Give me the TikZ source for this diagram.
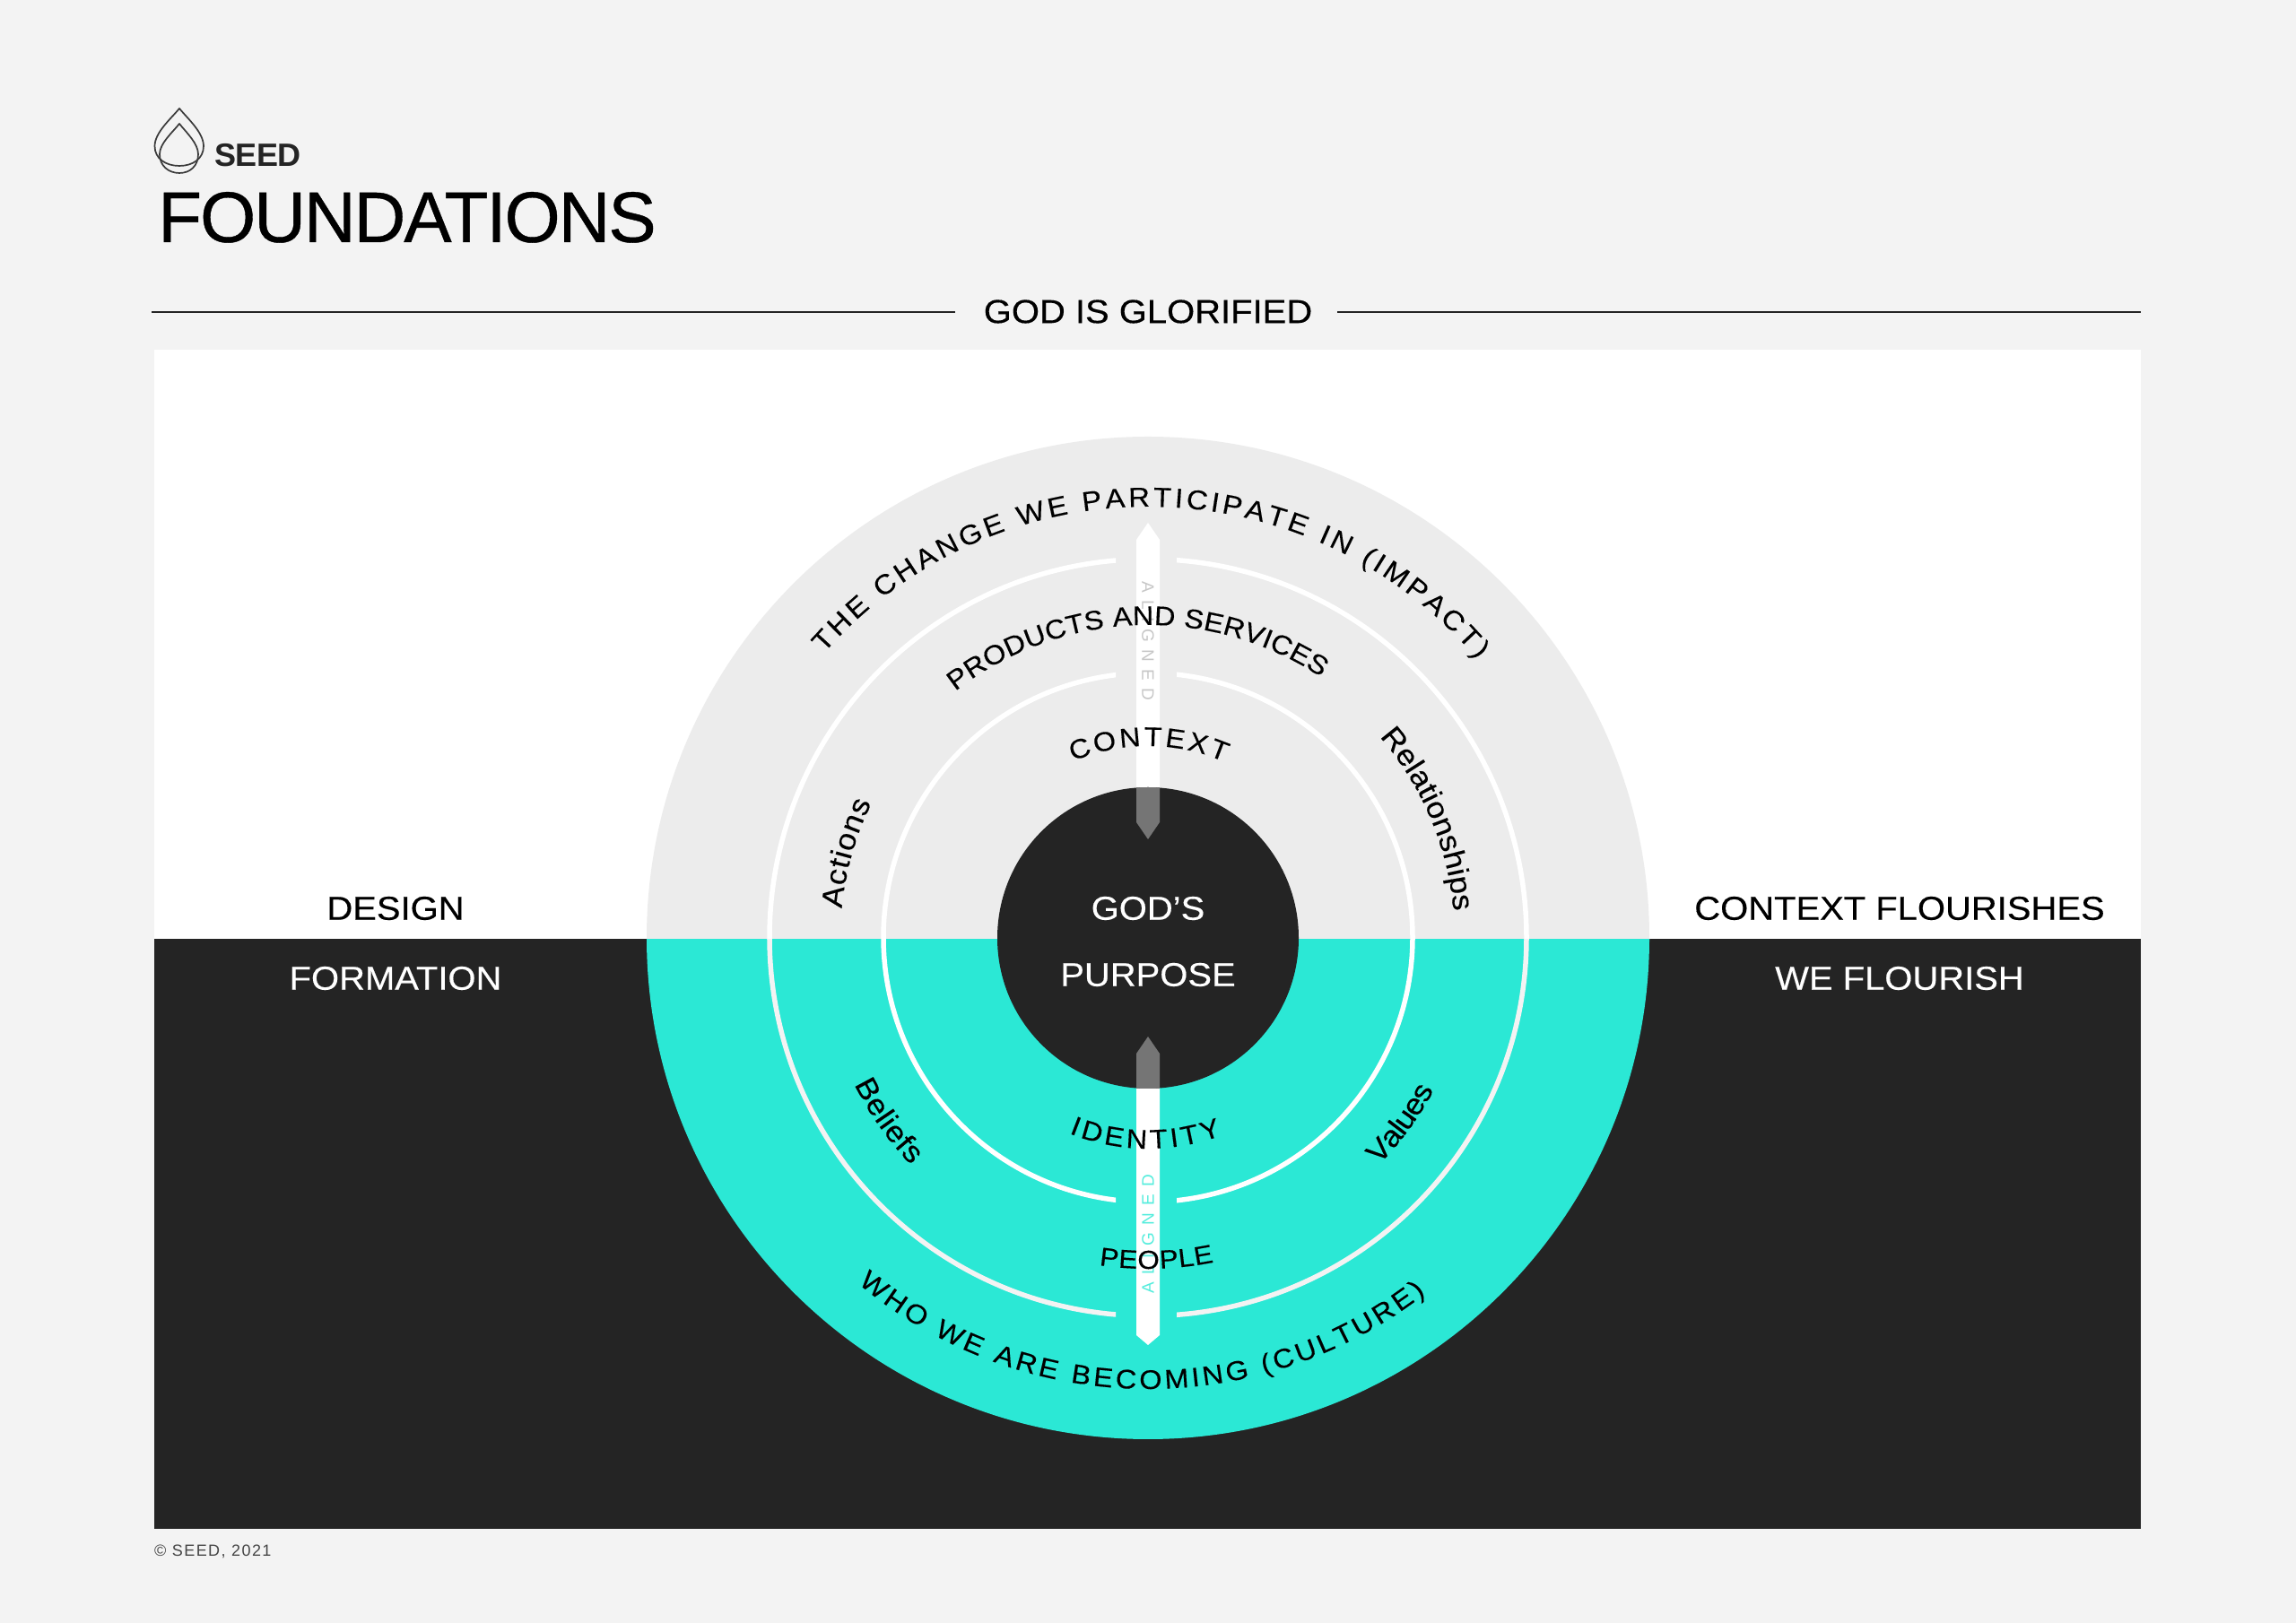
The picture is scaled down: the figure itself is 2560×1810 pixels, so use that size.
\documentclass[tikz,border=0pt]{standalone}
\usepackage{fontspec}
\setmainfont{Liberation Sans}
\newfontfamily\spaced[LetterSpace=43]{Liberation Sans}
\newfontfamily\copyfont[LetterSpace=8]{Liberation Sans}
\newfontfamily\widefont[FakeStretch=1.08,FakeBold=0.3]{Liberation Sans}
\newfontfamily\titlefont[LetterSpace=-2.6,FakeBold=0.5]{Liberation Sans}
\newfontfamily\seedfont[LetterSpace=-1.5]{Liberation Sans}
\definecolor{pagebg}{HTML}{F3F3F3}
\definecolor{inkdark}{HTML}{242424}
\definecolor{teal1}{HTML}{2BE8D5}
\definecolor{disc}{HTML}{ECECEC}
\definecolor{veil}{HTML}{757575}
\tikzset{
  x=1pt,y=1pt,
  label/.style={inner sep=0pt,text=black,font=\widefont\fontsize{37}{37}\selectfont},
  wlabel/.style={label,text=white},
  ringline/.style={line width=5.5pt},
  rulel/.style={line width=1.4pt,draw=inkdark},
  logo/.style={line width=1.7pt,draw=inkdark!90,line join=round},
}
\ExplSyntaxOn
\NewDocumentCommand{\mapchars}{mm}{\str_map_inline:nn {#2} { #1 {##1} }}
\ExplSyntaxOff
\newlength\chw
\newlength\chsum
\newcount\chn
\newcount\ltrid
\newcommand\getw[1]{\setbox0=\hbox{\pgfinterruptpicture\curfont #1\endpgfinterruptpicture}\chw=\wd0\relax}
\newcommand\measureletter[1]{\getw{#1}\advance\chsum\chw \advance\chn 1\relax}
\newcommand\placeletter[1]{%
  \getw{#1}%
  \pgfmathsetmacro\ang{\astart+\asign*(\pos+\the\chw/2)/\arcR*180/pi}%
  \pgfmathsetmacro\rot{\ang+\asign*90}%
  \global\advance\ltrid 1\relax
  \node[anchor=base,inner sep=0pt,rotate=\rot,font=\curfont,text=black] (ltr\the\ltrid) at (\ang:\arcR pt) {#1};%
  \pgfmathsetmacro\pos{\pos+\the\chw+\track}%
}
\newcommand{\arctext}[5]{% radius, start, end, size, text
  \def\curfont{\widefont\fontsize{#4}{#4}\selectfont}%
  \chsum=0pt \chn=0\relax
  \mapchars\measureletter{#5}%
  \def\arcR{#1}\def\astart{#2}%
  \pgfmathsetmacro\asign{(#3>#2)?1:-1}%
  \pgfmathsetmacro\arclen{abs(#3-(#2))*pi/180*#1}%
  \pgfmathsetmacro\track{(\arclen-\the\chsum)/(\the\chn-1)}%
  \def\pos{0}%
  \mapchars\placeletter{#5}%
}
\newcommand{\bladeA}{(1267,1208) -- (1280,1227) -- (1293,1208) -- (1293,893) -- (1280,874) -- (1267,893) -- cycle}
\newcommand{\bladeB}{(1267,321) -- (1280,310) -- (1293,321) -- (1293,635) -- (1280,654) -- (1267,635) -- cycle}
\newcommand{\ringset}{%
  \draw[ringline,white] (1280,764.5) circle[radius=295pt];
  \begin{scope}
    \clip (0,762.5) rectangle (2560,1810);
    \draw[ringline,white] (1280,764.5) circle[radius=422pt];
  \end{scope}
  \begin{scope}
    \clip (0,0) rectangle (2560,762.5);
    \draw[ringline,draw=pagebg] (1280,764.5) circle[radius=422pt];
  \end{scope}}
\begin{document}
\begin{tikzpicture}
\useasboundingbox (0,0) rectangle (2560,1810);
\fill[pagebg] (0,0) rectangle (2560,1810);
% panels
\fill[white] (172,762.5) rectangle (2387,1419.5);
\fill[inkdark] (172,105) rectangle (2387,762.5);
% disc
\begin{scope}
\clip (0,762.5) rectangle (2560,1810);
\fill[disc] (1280,764) circle[radius=559pt];
\end{scope}
\begin{scope}
\clip (0,0) rectangle (2560,762.5);
\fill[teal1] (1280,764) circle[radius=559pt];
\end{scope}
% rings
\begin{scope}
\clip (0,0) rectangle (1244,1810);
\ringset
\end{scope}
\begin{scope}
\clip (1312,0) rectangle (2560,1810);
\ringset
\end{scope}
% arrows
\fill[white] \bladeA;
\fill[white] \bladeB;
% centre
\fill[inkdark] (1280,764) circle[radius=168pt];
\begin{scope}
\clip (1280,764) circle[radius=168pt];
\fill[veil] \bladeA;
\fill[veil] \bladeB;
\end{scope}
% aligned
\node[rotate=-90,inner sep=0pt,text=black!22] (alignedtop) at (1280,1095)
  {\spaced\fontsize{19}{19}\selectfont ALIGNED};
\node[rotate=90,inner sep=0pt,text=teal1!80] (alignedlow) at (1280,433.5)
  {\spaced\fontsize{19}{19}\selectfont ALIGNED};
% curved labels
\begin{scope}[shift={(1280,764)}]
\arctext{481}{138.7}{40.2}{30.5}{THE CHANGE WE PARTICIPATE IN (IMPACT)}
\arctext{349}{128}{56.4}{30}{PRODUCTS AND SERVICES}
\arctext{214}{113}{66.5}{30}{CONTEXT}
\arctext{343}{174.5}{154}{33}{Actions}
\arctext{342}{41}{5}{33}{Relationships}
\arctext{235}{-112}{-69.5}{30}{IDENTITY}
\arctext{369}{-98.5}{-78.5}{29}{PEOPLE}
\arctext{503}{-130}{-52}{30}{WHO WE ARE BECOMING (CULTURE)}
\arctext{366}{206.5}{223.8}{33}{Beliefs}
\arctext{361}{-44.5}{-28}{33}{Values}
\end{scope}
% centre text
\node[wlabel] (gods) at (1280,797) {GOD’S};
\node[wlabel] (purpose) at (1280,723) {PURPOSE};
% side labels
\node[label] (design) at (441,797) {DESIGN};
\node[wlabel] (formation) at (441,719) {FORMATION};
\node[label] (ctxfl) at (2118,797) {CONTEXT FLOURISHES};
\node[wlabel] (weflo) at (2118,719) {WE FLOURISH};
% header
\node[label] (glorified) at (1280,1462.5) {GOD IS GLORIFIED};
\coordinate (rl1) at (169,1462); \coordinate (rl2) at (1065,1462);
\coordinate (rr1) at (1491,1462); \coordinate (rr2) at (2387,1462);
\draw[rulel] (rl1) -- (rl2);
\draw[rulel] (rr1) -- (rr2);
\node[anchor=base west,inner sep=0pt,text=black] (title) at (176,1540)
  {\titlefont\fontsize{80}{80}\selectfont FOUNDATIONS};
\node[anchor=base west,inner sep=0pt,text=inkdark] (seed) at (239,1624)
  {\seedfont\fontsize{36}{36}\selectfont\bfseries SEED};
% logo
\draw[logo] (200,1689) .. controls (190,1677) and (172.5,1662) .. (172.5,1647)
  .. controls (172.5,1633) and (185,1625) .. (200,1625)
  .. controls (215,1625) and (227,1633) .. (227,1647)
  .. controls (227,1662) and (210,1677) .. (200,1689) -- cycle;
\draw[logo] (200,1672) .. controls (192,1662) and (178,1650) .. (178,1638)
  .. controls (178,1625) and (188,1617) .. (200,1617)
  .. controls (212,1617) and (221,1625) .. (221,1638)
  .. controls (221,1650) and (208,1662) .. (200,1672) -- cycle;
% footer
\node[anchor=base west,inner sep=0pt,text=inkdark!85] (copy) at (172,74)
  {\copyfont\fontsize{18}{18}\selectfont © SEED, 2021};
\end{tikzpicture}
\end{document}
